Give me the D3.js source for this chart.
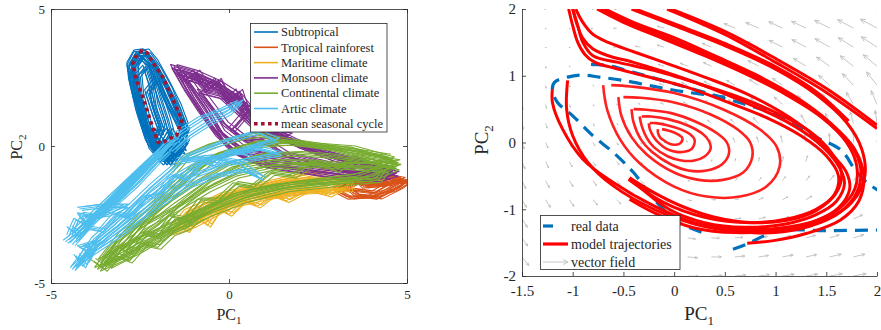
<!DOCTYPE html>
<html><head><meta charset="utf-8">
<script src="https://cdn.jsdelivr.net/npm/d3@7"></script>
<style>
body{margin:0;background:#fff}
svg{display:block}
text{font-family:"Liberation Serif","Times New Roman",serif;fill:#262626}
</style>
</head><body><svg id="c" width="881" height="330"></svg>
<script>
// ---------------- LEFT PANEL DATA (PC1, PC2) ----------------
const leftTicks = [-5, 0, 5];
const climateNames = ["Subtropical","Tropical rainforest","Maritime climate","Monsoon climate","Continental climate","Artic climate","mean seasonal cycle"];
const climateColors = ["#0072BD","#D95319","#EDB120","#7E2F8E","#77AC30","#4DBEEE","#A2142F"];

const subtropicalLoops = [
 [[-1.9,-0.5],[-2.3,0.3],[-2.55,1.3],[-2.75,2.4],[-2.8,3.0],[-2.6,3.45],[-2.35,3.5],[-2.1,3.1],[-1.8,2.4],[-1.45,1.5],[-1.25,0.8],[-1.4,0.2],[-1.7,-0.3],[-1.9,-0.5]],
 [[-2.0,-0.2],[-2.4,0.8],[-2.6,2.0],[-2.65,2.9],[-2.45,3.3],[-2.2,2.9],[-2.0,2.0],[-1.75,1.0],[-1.6,0.3],[-1.8,-0.1],[-2.0,-0.2]],
 [[-1.8,-0.6],[-2.2,0.0],[-2.45,1.0],[-2.7,2.2],[-2.75,2.8],[-2.5,3.3],[-2.2,3.0],[-1.95,2.3],[-1.6,1.3],[-1.3,0.5],[-1.5,-0.1],[-1.8,-0.6]],
 [[-2.1,0.0],[-2.3,0.9],[-2.5,1.9],[-2.55,2.6],[-2.35,2.9],[-2.2,2.3],[-2.1,1.5],[-1.9,0.7],[-2.1,0.0]],
 [[-1.6,-0.4],[-2.0,0.3],[-2.2,0.6],[-1.9,0.5],[-2.1,1.2],[-2.3,2.0],[-2.0,2.5],[-1.8,1.8],[-1.5,1.1],[-1.2,0.6],[-1.4,0.0],[-1.6,-0.4]],
 [[-2.2,0.4],[-1.7,-0.4],[-1.5,0.3],[-1.9,0.0],[-1.3,-0.2],[-1.7,0.6],[-2.0,-0.1],[-1.6,-0.6],[-1.2,0.2]],
 [[-1.7,-0.6],[-2.1,0.0],[-2.4,1.0],[-2.65,2.0],[-2.8,2.9],[-2.6,3.4],[-2.3,3.35],[-2.0,2.8],[-1.7,2.1],[-1.45,1.3],[-1.25,0.6],[-1.3,0.0],[-1.7,-0.6]]
];
const subtropicalShifts = [[0,0],[0.06,-0.08],[-0.07,0.05],[0.1,0.04],[-0.04,-0.1]];

const tropicalLoops = [
 [[3.1,-1.7],[3.4,-1.9],[4.0,-1.85],[4.6,-1.6],[5.0,-1.3],[4.6,-1.35],[4.0,-1.4],[3.5,-1.3],[3.1,-1.5],[3.1,-1.7]],
 [[3.3,-1.5],[3.6,-1.8],[4.2,-1.9],[4.8,-1.5],[4.95,-1.35],[4.4,-1.2],[3.8,-1.2],[3.3,-1.5]],
 [[3.0,-1.6],[3.5,-1.6],[4.1,-1.7],[4.5,-1.4],[3.9,-1.3],[3.4,-1.4],[3.0,-1.6]],
 [[3.5,-1.1],[4.0,-1.0],[4.5,-1.1],[4.9,-1.2],[4.5,-1.4],[3.8,-1.5],[3.5,-1.1]]
];
const tropicalShifts = [[0,0],[0.05,0.05],[-0.05,-0.04],[0.1,-0.03],[-0.08,0.06]];

const maritimeLoops = [
 [[-1.7,-3.2],[-1.0,-2.9],[0.0,-2.2],[1.0,-1.9],[2.0,-1.7],[3.4,-1.6],[3.3,-1.1],[2.5,-1.2],[1.5,-1.3],[0.5,-1.6],[-0.5,-2.0],[-1.2,-2.4],[-1.7,-3.2]],
 [[-1.4,-2.9],[-0.6,-2.4],[0.3,-1.9],[1.3,-1.65],[2.3,-1.45],[3.2,-1.25],[3.5,-0.5],[2.8,-0.9],[1.8,-1.15],[0.8,-1.45],[-0.2,-1.8],[-1.0,-2.3],[-1.4,-2.9]],
 [[-1.0,-2.7],[-0.4,-2.3],[0.5,-1.95],[1.5,-1.75],[2.8,-1.55],[3.3,-1.2],[2.2,-1.3],[1.0,-1.55],[0.0,-1.85],[-0.8,-2.4],[-1.0,-2.7]],
 [[-1.5,-2.8],[-1.2,-3.1],[-0.9,-2.6],[-0.6,-2.9],[-0.3,-2.3],[0.0,-2.5],[0.4,-2.0],[0.8,-2.2],[1.2,-1.8],[1.6,-2.0],[2.2,-1.6],[2.8,-1.8],[3.2,-1.5]]
];
const maritimeShifts = [[0,0],[0.08,-0.06],[-0.06,0.07],[0.12,0.05]];

const monsoonLoops = [
 [[-1.55,2.9],[-1.0,2.7],[-0.3,2.3],[0.3,1.8],[0.6,1.3],[0.9,0.8],[1.3,0.4],[2.0,0.0],[3.0,-0.5],[4.0,-0.8],[4.7,-1.0],[4.2,-1.2],[3.0,-1.1],[2.0,-0.9],[1.0,-0.7],[0.3,-0.3],[-0.3,0.4],[-0.8,1.3],[-1.2,2.1],[-1.55,2.9]],
 [[-1.4,2.7],[-0.7,2.4],[-0.1,2.0],[0.4,1.5],[0.8,1.0],[1.2,0.6],[1.8,0.2],[2.8,-0.3],[3.8,-0.7],[4.6,-0.9],[4.0,-1.1],[2.8,-0.9],[1.6,-0.7],[0.6,-0.5],[0.0,0.0],[-0.5,0.8],[-1.0,1.8],[-1.4,2.7]],
 [[-1.2,2.5],[-0.5,2.2],[0.2,1.6],[0.55,1.0],[1.0,0.5],[1.5,0.3],[2.5,-0.2],[3.5,-0.5],[4.4,-0.8],[3.6,-0.9],[2.5,-0.7],[1.3,-0.4],[0.5,-0.2],[-0.2,0.5],[-0.6,1.4],[-1.2,2.5]],
 [[-0.8,2.0],[-0.2,1.8],[0.3,1.2],[0.8,0.6],[1.7,0.4],[1.2,0.1],[0.5,0.2],[-0.1,0.8],[-0.8,2.0]],
 [[-1.0,2.6],[-0.6,2.0],[-0.3,2.4],[0.0,1.6],[0.3,2.0],[0.5,1.2],[0.1,0.6],[0.4,0.3],[1.0,0.2],[1.6,-0.3],[2.6,-0.6],[3.6,-1.0],[4.5,-1.1]],
 [[-1.5,2.8],[-1.2,2.4],[-0.9,2.7],[-0.6,2.1],[-0.3,2.3],[0.0,1.7],[0.2,1.9],[0.4,1.3],[0.6,1.5],[0.7,0.9],[1.0,1.0],[1.2,0.5],[1.5,0.6]]
];
const monsoonShifts = [[0,0],[0.08,0.07],[-0.06,-0.05],[0.05,-0.1],[-0.1,0.08]];

const continentalLoops = [
 [[-3.7,-4.5],[-3.0,-4.1],[-2.2,-3.5],[-1.3,-2.8],[-0.4,-2.2],[0.6,-1.7],[1.8,-1.4],[3.0,-1.3],[4.0,-1.2],[4.7,-0.8],[4.0,-0.6],[3.0,-0.4],[2.0,-0.3],[1.0,-0.35],[0.0,-0.7],[-0.8,-1.3],[-1.6,-2.0],[-2.4,-2.8],[-3.2,-3.6],[-3.7,-4.5]],
 [[-3.6,-4.2],[-2.8,-3.6],[-1.8,-3.0],[-0.8,-2.4],[0.2,-1.8],[1.2,-1.5],[2.4,-1.3],[3.6,-1.1],[4.75,-0.6],[3.8,-0.4],[2.8,-0.1],[1.8,0.1],[0.8,0.1],[-0.2,-0.3],[-1.0,-0.8],[-2.0,-2.0],[-3.0,-3.2],[-3.6,-4.2]],
 [[-3.4,-4.4],[-2.5,-3.8],[-1.6,-3.1],[-0.6,-2.5],[0.4,-2.0],[1.6,-1.6],[3.0,-1.4],[4.2,-1.25],[4.4,-0.9],[3.4,-0.8],[2.2,-0.7],[1.2,-0.8],[0.2,-1.1],[-0.6,-1.6],[-1.5,-2.3],[-2.5,-3.0],[-3.4,-4.4]],
 [[-3.0,-3.8],[-2.0,-2.9],[-1.2,-2.0],[-0.5,-1.3],[0.3,-0.8],[1.2,-0.6],[2.2,-0.6],[3.2,-0.7],[4.0,-0.7],[4.6,-0.5],[3.5,-0.1],[2.5,0.0],[1.6,0.1],[0.6,0.0],[-0.4,-0.4],[-1.2,-1.3],[-2.2,-2.5],[-3.0,-3.8]],
 [[-1.6,-1.0],[-1.2,-0.4],[-0.5,0.0],[0.3,0.3],[0.8,0.4],[1.5,0.2],[2.5,0.0],[3.5,-0.2],[4.5,-0.4]],
 [[-3.8,-4.2],[-3.5,-4.5],[-3.2,-4.0],[-2.8,-4.2],[-2.4,-3.6],[-2.0,-3.7],[-1.6,-3.2],[-1.2,-3.0],[-0.8,-2.6]],
 [[-3.5,-4.3],[-3.1,-3.7],[-2.8,-3.9],[-2.4,-3.2],[-2.0,-3.3],[-1.6,-2.6],[-1.2,-2.7],[-0.8,-2.0],[-0.3,-2.0],[0.2,-1.4],[0.7,-1.5],[1.2,-1.0],[1.8,-1.1],[2.4,-0.6],[3.0,-0.9],[3.6,-0.4],[4.2,-0.7],[4.7,-0.6]]
];
const continentalShifts = [[0,0],[0.08,-0.07],[-0.08,0.06],[0.05,0.1]];

const articLoops = [
 [[-4.6,-3.5],[-4.3,-3.2],[-4.0,-2.9],[-3.5,-2.4],[-3.0,-1.8],[-2.5,-1.1],[-2.0,-0.4],[-1.8,0.0],[-1.5,0.2]],
 [[-4.5,-3.0],[-4.2,-3.3],[-3.8,-2.6],[-3.2,-2.1],[-2.6,-1.4],[-2.1,-0.7],[-1.7,-0.2]],
 [[-4.2,-2.3],[-3.6,-2.2],[-2.9,-2.2],[-3.4,-2.5],[-4.0,-2.6]],
 [[-4.3,-3.4],[-1.9,-0.2],[-4.2,-3.1],[-1.7,0.1],[-4.4,-3.2],[-2.0,-0.3]],
 [[-4.4,-4.5],[-4.0,-4.0],[-3.4,-3.3],[-2.6,-2.5],[-1.8,-1.7],[-1.0,-1.1],[-0.2,-0.7],[0.6,-0.5],[1.4,-0.3],[0.8,-0.1],[0.0,-0.3],[-0.8,-0.6],[-1.6,-1.2],[-2.4,-2.0],[-3.2,-3.0],[-4.0,-3.8],[-4.4,-4.5]],
 [[-4.2,-4.2],[-3.6,-3.7],[-2.8,-3.0],[-2.0,-2.2],[-1.2,-1.5],[-0.4,-1.1],[0.4,-0.9],[0.9,-1.2],[0.2,-0.6],[-0.6,-0.4],[-1.4,-0.6],[-2.2,-1.5],[-3.0,-2.5],[-3.8,-3.4],[-4.2,-4.2]],
 [[-1.6,-0.2],[-1.2,0.3],[-0.6,0.8],[0.0,1.2],[0.3,1.6],[-0.2,1.3],[-0.8,1.0],[-1.4,0.5],[-1.9,-0.2]],
 [[-1.4,-0.5],[-0.8,-0.2],[0.0,0.2],[0.8,0.5],[1.3,0.2],[0.5,-0.1],[-0.5,-0.5],[-1.4,-0.5]],
 [[-4.3,-4.0],[-4.1,-4.4],[-3.9,-3.9],[-4.2,-3.7],[-3.7,-3.5],[-4.0,-4.2]],
 [[-4.5,-3.3],[-4.3,-2.7],[-4.0,-2.9],[-4.2,-2.5],[-3.7,-2.6],[-3.4,-2.4]],
 [[-4.4,-3.6],[-4.0,-3.0],[-3.6,-3.1],[-3.2,-2.5],[-2.8,-2.6],[-2.4,-1.9],[-2.0,-1.8],[-1.6,-1.1],[-1.2,-1.2],[-0.8,-0.6],[-0.4,-0.7],[0.0,-0.2],[0.5,-0.3],[0.9,0.1]]
];
const articShifts = [[0,0],[0.07,-0.05],[-0.06,0.06],[0.1,0.08]];

const meanCycle = [[-2.44,3.5],[-2.62,3.25],[-2.7,3.0],[-2.6,2.4],[-2.4,1.7],[-2.2,0.9],[-2.0,0.15],[-1.9,0.1],[-1.7,0.25],[-1.47,0.4],[-1.32,0.95],[-1.57,1.68],[-1.85,2.5],[-2.13,3.03],[-2.3,3.4],[-2.44,3.5]];

// ---------------- RIGHT PANEL DATA ----------------
const rightXTicks = [-1.5,-1,-0.5,0,0.5,1,1.5,2];
const rightYTicks = [-2,-1,0,1,2];
const rightLegend = ["real data","model trajectories","vector field"];

const realData = [
 [[-0.82,1.17],[-0.65,1.15],[-0.4,1.05],[0.0,0.88],[0.5,0.66],[1.0,0.42],[1.4,0.08],[1.65,-0.12],[1.78,-0.4],[1.9,-0.6],[2.05,-0.75]],
 [[0.5,0.68],[0.1,0.76],[-0.2,0.84],[-0.5,0.93],[-0.74,0.98],[-0.9,1.01],[-1.05,0.98],[-1.18,0.9],[-1.2,0.78],[-1.15,0.6],[-1.0,0.4],[-0.8,0.1],[-0.6,-0.15],[-0.4,-0.45],[-0.2,-0.85],[0.05,-1.2],[0.3,-1.36]],
 [[0.58,-1.6],[0.72,-1.52],[0.88,-1.4],[1.0,-1.32],[1.5,-1.32],[2.05,-1.31]]
];

const trajectories = [
 [[-1.04,2.0],[-1.0,1.75],[-0.95,1.5],[-0.88,1.32],[-0.78,1.2],[-0.6,1.12],[-0.3,1.0],[0.1,0.84],[0.5,0.62],[0.9,0.38],[1.25,0.1],[1.5,-0.2],[1.62,-0.5],[1.58,-0.78],[1.4,-1.0],[1.1,-1.15],[0.7,-1.2],[0.3,-1.12],[-0.1,-0.9],[-0.45,-0.55]],
 [[-1.0,2.0],[-0.96,1.78],[-0.9,1.56],[-0.8,1.4],[-0.65,1.3],[-0.4,1.2],[-0.1,1.06],[0.3,0.85],[0.7,0.6],[1.1,0.32],[1.4,0.02],[1.6,-0.3],[1.68,-0.6],[1.6,-0.88],[1.4,-1.08],[1.1,-1.22],[0.7,-1.27],[0.3,-1.2],[-0.05,-1.0],[-0.44,-0.53]],
 [[-0.97,2.0],[-0.9,1.8],[-0.8,1.62],[-0.65,1.5],[-0.4,1.36],[-0.1,1.2],[0.3,0.98],[0.7,0.74],[1.05,0.46],[1.35,0.14],[1.57,-0.2],[1.7,-0.45],[1.73,-0.7],[1.62,-0.98],[1.4,-1.17],[1.05,-1.28],[0.65,-1.3],[0.3,-1.24]],
 [[-0.76,2.0],[-0.5,1.8],[-0.1,1.55],[0.3,1.3],[0.7,1.03],[1.1,0.72],[1.45,0.38],[1.7,0.0],[1.8,-0.35],[1.78,-0.7],[1.62,-1.0],[1.35,-1.2],[1.0,-1.3],[0.6,-1.3],[0.2,-1.2],[-0.2,-0.95],[-0.6,-0.6],[-0.9,-0.25],[-1.1,0.2],[-1.2,0.6],[-1.2,0.8]],
 [[-0.72,2.0],[-0.45,1.8],[-0.05,1.56],[0.35,1.3],[0.75,1.02],[1.15,0.7],[1.5,0.33],[1.75,-0.05],[1.84,-0.4],[1.8,-0.75],[1.63,-1.05],[1.35,-1.25],[1.0,-1.35],[0.6,-1.33],[0.2,-1.22],[-0.2,-1.0],[-0.6,-0.65],[-0.85,-0.3],[-1.0,0.1],[-1.06,0.5],[-1.05,0.93]],
 [[-0.68,2.0],[-0.4,1.8],[0.0,1.57],[0.4,1.3],[0.8,1.02],[1.2,0.68],[1.55,0.28],[1.78,-0.1],[1.87,-0.5],[1.82,-0.88],[1.64,-1.16],[1.31,-1.36],[0.98,-1.47],[0.72,-1.51]],
 [[-0.42,2.0],[0.0,1.75],[0.5,1.45],[1.0,1.1],[1.4,0.72],[1.7,0.3],[1.85,-0.1],[1.88,-0.5],[1.75,-0.9],[1.5,-1.15],[1.1,-1.3],[0.6,-1.35],[0.2,-1.28],[-0.2,-1.05],[-0.44,-0.85]],
 [[-0.38,2.0],[0.03,1.76],[0.52,1.47],[1.02,1.12],[1.42,0.74],[1.72,0.32]],
 [[-0.44,-0.53],[-0.2,-0.75],[0.1,-0.97],[0.4,-1.12],[0.75,-1.2],[1.1,-1.17],[1.4,-1.02],[1.6,-0.75],[1.65,-0.45],[1.55,-0.15],[1.35,0.15],[1.0,0.45],[0.6,0.7],[0.2,0.9],[-0.2,1.08],[-0.55,1.2],[-0.8,1.3],[-0.9,1.5],[-0.95,1.75],[-1.0,2.0]],
 [[-0.07,2.0],[0.5,1.62],[1.0,1.2],[1.5,0.75],[2.0,0.21]],
 [[-0.03,2.0],[0.52,1.65],[1.02,1.24],[1.52,0.79],[2.0,0.26]]
];

const spiralLoops = [
 [[-0.7,0.86],[-0.66,0.49],[-0.53,0.04],[-0.34,-0.31],[0.0,-0.66],[0.32,-0.81],[0.65,-0.81],[0.91,-0.66],[1.04,-0.36],[1.01,-0.06],[0.85,0.19],[0.49,0.49],[0.0,0.74],[-0.43,0.84],[-0.62,0.86]],
 [[-0.55,0.68],[-0.52,0.4],[-0.42,0.08],[-0.27,-0.18],[0.0,-0.45],[0.24,-0.56],[0.48,-0.56],[0.68,-0.45],[0.77,-0.22],[0.75,0.0],[0.63,0.19],[0.36,0.42],[0.0,0.6],[-0.33,0.67],[-0.5,0.68]],
 [[-0.42,0.5],[-0.4,0.3],[-0.33,0.05],[-0.22,-0.14],[-0.03,-0.33],[0.14,-0.42],[0.32,-0.42],[0.47,-0.33],[0.54,-0.17],[0.52,0.0],[0.43,0.13],[0.23,0.3],[-0.03,0.44],[-0.27,0.49],[-0.4,0.5]],
 [[-0.34,0.39],[-0.32,0.25],[-0.27,0.07],[-0.2,-0.07],[-0.06,-0.21],[0.07,-0.27],[0.2,-0.27],[0.3,-0.21],[0.36,-0.09],[0.34,0.03],[0.28,0.13],[0.14,0.25],[-0.06,0.35],[-0.23,0.39],[-0.32,0.39]],
 [[-0.25,0.29],[-0.24,0.2],[-0.2,0.08],[-0.15,-0.01],[-0.07,-0.1],[0.02,-0.14],[0.1,-0.14],[0.17,-0.1],[0.2,-0.02],[0.2,0.05],[0.16,0.12],[0.06,0.2],[-0.07,0.26],[-0.18,0.29],[-0.24,0.29]],
 [[-0.16,0.2],[-0.16,0.15],[-0.14,0.08],[-0.11,0.04],[-0.06,-0.01],[-0.02,-0.03],[0.03,-0.03],[0.06,-0.01],[0.08,0.03],[0.08,0.07],[0.05,0.11],[0.0,0.15],[-0.06,0.18],[-0.12,0.2]]
];

// vector field grid (tail positions) and arrow angle (deg) / length
const fieldX = [-1.5,-1.267,-1.033,-0.8,-0.567,-0.333,-0.1,0.133,0.367,0.6,0.833,1.067,1.3,1.533,1.767,2.0];
const fieldY = [2,1.714,1.429,1.143,0.857,0.571,0.286,0,-0.286,-0.571,-0.857,-1.143,-1.429,-1.714,-2];
const fieldAngle = [
 [200,200,200,200,190,175,168,165,162,160,158,157,156,155,155,155],
 [-100,-90,-60,200,185,172,165,162,160,158,157,155,155,153,152,152],
 [-95,-80,-40,190,180,170,163,160,158,156,155,153,152,150,148,147],
 [-90,-80,-60,0,175,168,162,158,155,153,152,150,148,145,142,140],
 [-85,-80,-70,-40,170,165,160,155,152,150,148,145,142,138,133,128],
 [-80,-78,-72,-60,-20,160,155,150,148,145,142,138,133,127,120,113],
 [-75,-72,-68,-62,-50,-10,150,145,140,137,132,127,120,112,105,98],
 [-70,-68,-65,-60,-55,-45,0,120,118,112,108,103,98,92,87,82],
 [-68,-65,-62,-58,-52,-45,-30,30,75,80,80,78,75,72,68,63],
 [-65,-62,-58,-55,-50,-42,-30,-10,20,40,48,52,52,50,48,45],
 [-60,-58,-55,-50,-45,-38,-28,-15,0,12,22,28,32,33,33,32],
 [-58,-55,-50,-45,-40,-32,-22,-12,-3,5,12,17,20,22,23,23],
 [-55,-50,-45,-40,-33,-25,-17,-8,-2,4,9,13,15,17,17,17],
 [-52,-47,-40,-35,-28,-20,-12,-5,0,5,8,10,12,13,13,13],
 [-50,-45,-38,-30,-23,-15,-8,-2,2,5,7,8,9,10,10,10]
];
const fieldLength = [
 [1,1,1,1,2,4,6,8,10,12,13,14,16,17,18,19],
 [1,1,1,2,3,5,7,9,11,12,14,15,16,17,18,19],
 [2,1,1,2,3,5,7,9,10,12,13,15,16,17,18,19],
 [3,2,1,1,2,4,6,8,9,11,12,14,15,16,17,18],
 [4,3,2,1,2,3,5,7,8,10,11,12,14,15,16,17],
 [5,4,3,2,1,2,4,5,7,8,10,11,12,13,14,15],
 [6,5,4,3,2,1,2,3,5,6,8,9,10,11,12,13],
 [7,6,5,4,3,2,1,2,3,5,6,7,8,9,10,11],
 [8,7,6,5,4,3,2,1,2,3,4,5,6,7,8,9],
 [9,8,7,6,5,4,3,2,2,3,4,5,6,7,8,9],
 [9,9,8,7,6,5,4,4,4,4,5,6,7,8,9,10],
 [10,9,9,8,7,7,6,6,6,6,7,7,8,9,10,11],
 [10,10,10,9,9,8,8,8,8,8,9,9,10,10,11,12],
 [11,11,11,10,10,10,10,10,10,10,10,11,11,12,12,13],
 [12,12,12,12,12,11,11,11,11,11,11,12,12,13,13,14]
];

// ---------------- DRAWING ----------------
const svg = d3.select('#c');
const axisColor = '#262626';

const xL = d3.scaleLinear().domain([-5,5]).range([51,407]);
const yL = d3.scaleLinear().domain([-5,5]).range([283,9]);
const xR = d3.scaleLinear().domain([-1.5,2]).range([522,877]);
const yR = d3.scaleLinear().domain([-2,2]).range([276,9]);

const defs = svg.append('defs');
defs.append('clipPath').attr('id','clipL').append('rect')
  .attr('x',xL(-5)).attr('y',yL(5)).attr('width',xL(5)-xL(-5)).attr('height',yL(-5)-yL(5));
defs.append('clipPath').attr('id','clipR').append('rect')
  .attr('x',xR(-1.5)).attr('y',yR(2)).attr('width',xR(2)-xR(-1.5)).attr('height',yR(-2)-yR(2));

// ---- left panel
const lineL = d3.line().x(d=>xL(d[0])).y(d=>yL(d[1]));
const climates = [
  {loops: subtropicalLoops, shifts: subtropicalShifts, color: climateColors[0]},
  {loops: tropicalLoops, shifts: tropicalShifts, color: climateColors[1]},
  {loops: maritimeLoops, shifts: maritimeShifts, color: climateColors[2]},
  {loops: monsoonLoops, shifts: monsoonShifts, color: climateColors[3]},
  {loops: continentalLoops, shifts: continentalShifts, color: climateColors[4]},
  {loops: articLoops, shifts: articShifts, color: climateColors[5]}
];
const gL = svg.append('g').attr('clip-path','url(#clipL)');
climates.forEach(c => {
  c.loops.forEach(loop => {
    c.shifts.forEach(s => {
      gL.append('path')
        .attr('d', lineL(loop.map(p => [p[0]+s[0], p[1]+s[1]])))
        .attr('fill','none').attr('stroke',c.color)
        .attr('stroke-width',1.1).attr('stroke-linejoin','round');
    });
  });
});
gL.append('path').attr('d', lineL(meanCycle)).attr('fill','none')
  .attr('stroke',climateColors[6]).attr('stroke-width',3.6)
  .attr('stroke-dasharray','3.6,3.4');

function styleAxis(g){
  g.attr('font-family',null);
  g.selectAll('path,line').attr('stroke',axisColor).attr('stroke-width',0.8);
  g.selectAll('text').attr('fill',axisColor);
}
const fmt = d => String(d);
svg.append('g').attr('transform',`translate(0,${yL(-5)})`)
  .call(d3.axisBottom(xL).tickValues(leftTicks).tickSize(-4).tickSizeOuter(0).tickPadding(7).tickFormat(fmt))
  .call(g=>g.selectAll('text').attr('font-size',13)).call(styleAxis);
svg.append('g').attr('transform',`translate(0,${yL(5)})`)
  .call(d3.axisTop(xL).tickValues(leftTicks).tickSize(-4).tickSizeOuter(0).tickFormat(''))
  .call(styleAxis);
svg.append('g').attr('transform',`translate(${xL(-5)},0)`)
  .call(d3.axisLeft(yL).tickValues(leftTicks).tickSize(-4).tickSizeOuter(0).tickPadding(6).tickFormat(fmt))
  .call(g=>g.selectAll('text').attr('font-size',13)).call(styleAxis);
svg.append('g').attr('transform',`translate(${xL(5)},0)`)
  .call(d3.axisRight(yL).tickValues(leftTicks).tickSize(-4).tickSizeOuter(0).tickFormat(''))
  .call(styleAxis);

const lx = svg.append('text').attr('x',229).attr('y',320).attr('text-anchor','middle').attr('font-size',16);
lx.append('tspan').text('PC');
lx.append('tspan').attr('font-size',11).attr('dy',4).text('1');
const ly = svg.append('text').attr('transform','translate(22,147) rotate(-90)').attr('text-anchor','middle').attr('font-size',16);
ly.append('tspan').text('PC');
ly.append('tspan').attr('font-size',11).attr('dy',4).text('2');

const legL = svg.append('g');
legL.append('rect').attr('x',250.5).attr('y',23.5).attr('width',136.5).attr('height',108.5)
  .attr('fill','#fff').attr('stroke',axisColor).attr('stroke-width',0.8);
climateNames.forEach((name,i) => {
  const cy = 32 + i*15.3;
  const ln = legL.append('line').attr('x1',254).attr('x2',278).attr('y1',cy).attr('y2',cy)
    .attr('stroke',climateColors[i]).attr('stroke-width', i===6 ? 3.6 : 1.6);
  if (i===6) ln.attr('stroke-dasharray','3.6,3.4');
  legL.append('text').attr('x',281).attr('y',cy+4.2).attr('font-size',12.5).text(name);
});

// ---- right panel
const gR = svg.append('g').attr('clip-path','url(#clipR)');
const gF = gR.append('g').attr('stroke','#bfbfbf').attr('stroke-width',0.9).attr('fill','none');
fieldY.forEach((yv,i) => {
  fieldX.forEach((xv,j) => {
    const a = fieldAngle[i][j]*Math.PI/180;
    const L = fieldLength[i][j];
    const x0 = xR(xv), y0 = yR(yv);
    const x1 = x0 + L*Math.cos(a), y1 = y0 - L*Math.sin(a);
    const h = Math.max(1.2, 0.3*L), ha = 0.4;
    const p = `M${x0},${y0}L${x1},${y1}` +
      `M${x1 - h*Math.cos(a-ha)},${y1 + h*Math.sin(a-ha)}L${x1},${y1}L${x1 - h*Math.cos(a+ha)},${y1 + h*Math.sin(a+ha)}`;
    gF.append('path').attr('d',p);
  });
});
const lineR = d3.line().x(d=>xR(d[0])).y(d=>yR(d[1])).curve(d3.curveCatmullRom.alpha(0.5));
realData.forEach(seg => {
  gR.append('path').attr('d',lineR(seg)).attr('fill','none')
    .attr('stroke','#0072BD').attr('stroke-width',3.2).attr('stroke-dasharray','13,8');
});
spiralLoops.forEach(loop => {
  gR.append('path').attr('d',lineR(loop)).attr('fill','none')
    .attr('stroke','#ff2020').attr('stroke-width',2.6).attr('stroke-linejoin','round');
});
trajectories.forEach(t => {
  gR.append('path').attr('d',lineR(t)).attr('fill','none')
    .attr('stroke','#ff0000').attr('stroke-width',3).attr('stroke-linejoin','round');
});

svg.append('g').attr('transform',`translate(0,${yR(-2)})`)
  .call(d3.axisBottom(xR).tickValues(rightXTicks).tickSize(-4).tickSizeOuter(0).tickPadding(9).tickFormat(fmt))
  .call(g=>g.selectAll('text').attr('font-size',15)).call(styleAxis);
svg.append('g').attr('transform',`translate(${xR(-1.5)},0)`)
  .call(d3.axisLeft(yR).tickValues(rightYTicks).tickSize(-4).tickSizeOuter(0).tickPadding(6).tickFormat(fmt))
  .call(g=>g.selectAll('text').attr('font-size',15)).call(styleAxis);

const rx = svg.append('text').attr('x',699).attr('y',320).attr('text-anchor','middle').attr('font-size',19);
rx.append('tspan').text('PC');
rx.append('tspan').attr('font-size',13).attr('dy',5).text('1');
const ry = svg.append('text').attr('transform','translate(488,140) rotate(-90)').attr('text-anchor','middle').attr('font-size',19);
ry.append('tspan').text('PC');
ry.append('tspan').attr('font-size',13).attr('dy',5).text('2');

const legR = svg.append('g');
legR.append('rect').attr('x',540.5).attr('y',215.5).attr('width',139.5).attr('height',54)
  .attr('fill','#fff').attr('stroke',axisColor).attr('stroke-width',0.8);
const ry0 = [226, 244, 262];
legR.append('line').attr('x1',543).attr('x2',553).attr('y1',ry0[0]).attr('y2',ry0[0])
  .attr('stroke','#0072BD').attr('stroke-width',3.2);
legR.append('line').attr('x1',543).attr('x2',568).attr('y1',ry0[1]).attr('y2',ry0[1])
  .attr('stroke','#ff0000').attr('stroke-width',3.2);
legR.append('path').attr('d',`M543,${ry0[2]}L568,${ry0[2]}M563,${ry0[2]-2.5}L568,${ry0[2]}L563,${ry0[2]+2.5}`)
  .attr('stroke','#bfbfbf').attr('stroke-width',0.9).attr('fill','none');
rightLegend.forEach((name,i) => {
  legR.append('text').attr('x',571).attr('y',ry0[i]+4.8).attr('font-size',14).text(name);
});
</script></body></html>
